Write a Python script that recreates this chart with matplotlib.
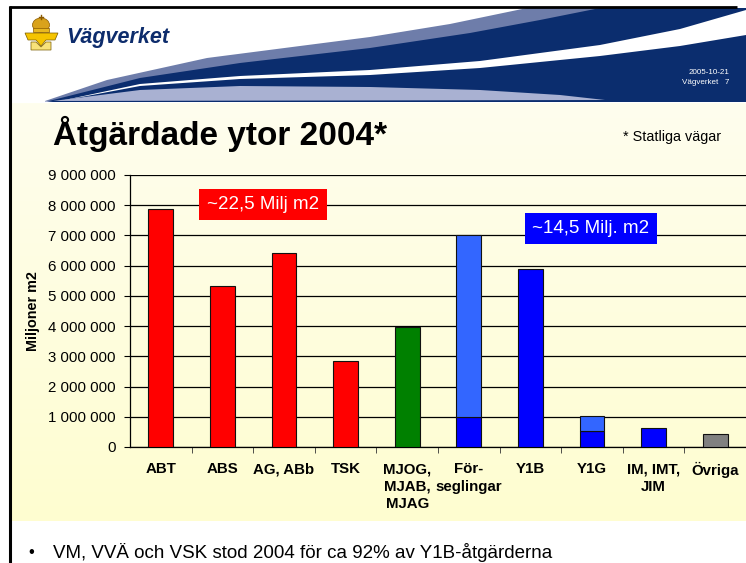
import numpy as np
import matplotlib
matplotlib.use("Agg")
import matplotlib.pyplot as plt
from matplotlib.patches import Polygon, Rectangle, Ellipse

plt.rcParams['font.family'] = ['Liberation Sans', 'DejaVu Sans']

# --- data ---
categories = ['ABT', 'ABS', 'AG, ABb', 'TSK', 'MJOG,\nMJAB,\nMJAG',
              'För-\nseglingar', 'Y1B', 'Y1G', 'IM, IMT,\nJIM', 'Övriga']
lower_values = [7880000, 5330000, 6420000, 2840000, 3980000,
                1000000, 5890000, 520000, 620000, 420000]
upper_values = [0, 0, 0, 0, 0, 6010000, 0, 520000, 0, 0]
y_ticks = [0, 1000000, 2000000, 3000000, 4000000, 5000000,
           6000000, 7000000, 8000000, 9000000]
y_tick_labels = ['0', '1 000 000', '2 000 000', '3 000 000', '4 000 000',
                 '5 000 000', '6 000 000', '7 000 000', '8 000 000', '9 000 000']

lower_colors = ['#FF0000'] * 4 + ['#008000', '#0000FF', '#0000FF',
                                  '#0000FF', '#0000FF', '#808080']
upper_color = '#3366FF'

W, H = 746, 563


def fx(px):
    return px / W


def fy(py):
    return 1 - py / H


fig = plt.figure(figsize=(W / 100, H / 100), dpi=100)
fig.patch.set_facecolor('white')

# background layer in pixel coordinates (slide decoration)
bg = fig.add_axes([0, 0, 1, 1], zorder=-1)
bg.axis('off')

# pale yellow content area, slightly darker towards the bottom
top_c = np.array([254, 254, 238]) / 255
bot_c = np.array([255, 253, 208]) / 255
t = np.linspace(0, 1, 256)[:, None, None]
grad = top_c + (bot_c - top_c) * t
bg.imshow(grad, extent=[11, W, 521, 103], aspect='auto', interpolation='bilinear')

# header waves
slate_top = [(45, 101), (107, 80), (207, 58), (300, 46), (370, 37), (450, 24), (527, 8)]
navy_top = [(45, 102), (140, 78), (240, 63), (370, 48), (470, 33), (540, 20), (600, 8)]
white_up = [(60, 101), (140, 84), (240, 76), (370, 70), (480, 61), (600, 45), (680, 29), (746, 10)]
white_lo = [(60, 101), (140, 86), (240, 79), (370, 75), (480, 68), (600, 56), (680, 46), (746, 35)]
lav_top = [(45, 102), (140, 90), (240, 86), (370, 87), (480, 90), (560, 95), (605, 100)]

bg.add_patch(Polygon(slate_top + [(W, 8), (W, 101)], closed=True,
                     facecolor='#6E7DAA', edgecolor='none'))
bg.add_patch(Polygon(navy_top + [(W, 8), (W, 102)], closed=True,
                     facecolor='#0B2D6E', edgecolor='none'))
bg.add_patch(Polygon(white_up + white_lo[::-1], closed=True,
                     facecolor='white', edgecolor='none'))
bg.add_patch(Polygon(lav_top + [(45, 101)], closed=True,
                     facecolor='#A9B1D2', edgecolor='none'))

# frame lines
bg.plot([9, 737], [7, 7], color='black', lw=2, solid_capstyle='butt')
bg.plot([10, 10], [6, H], color='black', lw=2.2, solid_capstyle='butt')

# small emblem
bg.add_patch(Ellipse((41, 25), 17, 14, facecolor='#D9A21B', edgecolor='#8B5A00', lw=0.5))
bg.add_patch(Rectangle((33, 28), 16, 4, facecolor='#E8B820', edgecolor='#8B5A00', lw=0.5))
bg.plot([41, 41], [15, 19], color='#8B5A00', lw=1)
bg.plot([39, 43], [16.5, 16.5], color='#8B5A00', lw=1)
bg.add_patch(Polygon([(25, 33), (58, 33), (55, 40), (46, 40), (41, 46), (36, 40), (28, 40)],
                     closed=True, facecolor='#F5C400', edgecolor='#7A5C00', lw=0.5))
bg.add_patch(Polygon([(31, 42), (36, 42), (41, 47), (46, 42), (51, 42), (51, 50), (31, 50)],
                     closed=True, facecolor='#F8E27A', edgecolor='#7A5C00', lw=0.5))

bg.set_xlim(0, W)
bg.set_ylim(H, 0)

fig.text(fx(66), fy(37), 'Vägverket', fontsize=15.5, fontweight='bold',
         fontstyle='italic', color='#0D2C6C', va='center', ha='left')
fig.text(fx(729), fy(72), '2005-10-21', fontsize=5.8, color='white', ha='right', va='center')
fig.text(fx(729), fy(83), 'Vägverket   7', fontsize=5.8, color='white', ha='right', va='center')

# title
fig.text(fx(53), fy(145), 'Åtgärdade ytor 2004*', fontsize=24, fontweight='bold',
         ha='left', va='baseline')
fig.text(fx(623), fy(137), '* Statliga vägar', fontsize=10.4, ha='left', va='center')

# --- the chart ---
ax = fig.add_axes([fx(130), fy(447), 616 / W, 272 / H])
ax.patch.set_alpha(0)

x = np.arange(len(categories))
ax.bar(x, lower_values, width=0.4, color=lower_colors, edgecolor='#111111', lw=0.8, zorder=3)
has_upper = np.array(upper_values) > 0
ax.bar(x[has_upper], np.array(upper_values)[has_upper],
       bottom=np.array(lower_values)[has_upper], width=0.4,
       color=upper_color, edgecolor='#111111', lw=0.8, zorder=3)

ax.set_xlim(-0.5, len(categories) - 0.5)
ax.set_ylim(0, 9000000)
ax.set_yticks(y_ticks, y_tick_labels)
ax.set_xticks(x, categories, fontweight='bold', fontsize=10.8, linespacing=1.3)
ax.set_xticks(np.arange(0.5, len(categories) - 1, 1), minor=True)
ax.tick_params(axis='x', which='major', length=0, pad=11)
ax.tick_params(axis='x', which='minor', length=4, color='#333333')
ax.tick_params(axis='y', length=4, pad=6.5, labelsize=10.8)

ax.yaxis.grid(True, color='black', lw=0.9)
ax.set_axisbelow(True)
for side in ['top', 'right']:
    ax.spines[side].set_visible(False)
ax.spines['left'].set_linewidth(0.9)
ax.spines['bottom'].set_linewidth(0.9)

fig.text(fx(33), fy(311), 'Miljoner m2', rotation=90, fontsize=10.4,
         fontweight='bold', ha='center', va='center')

# annotation boxes
fig.add_artist(Rectangle((fx(199), fy(220)), 128 / W, 31 / H, transform=fig.transFigure,
                         facecolor='#FF0000', edgecolor='none', zorder=5))
fig.text(fx(263), fy(204.5), '~22,5 Milj m2', color='white', fontsize=13.5,
         ha='center', va='center', zorder=6)
fig.add_artist(Rectangle((fx(525), fy(244)), 132 / W, 31 / H, transform=fig.transFigure,
                         facecolor='#0000FF', edgecolor='none', zorder=5))
fig.text(fx(591), fy(228.5), '~14,5 Milj. m2', color='white', fontsize=13.5,
         ha='center', va='center', zorder=6)

# bullet below the chart
fig.text(fx(31), fy(552), '•', fontsize=12, ha='center', va='center')
fig.text(fx(53), fy(552), 'VM, VVÄ och VSK stod 2004 för ca 92% av Y1B-åtgärderna',
         fontsize=13.5, ha='left', va='center')

fig.savefig('out.png', dpi=100)
